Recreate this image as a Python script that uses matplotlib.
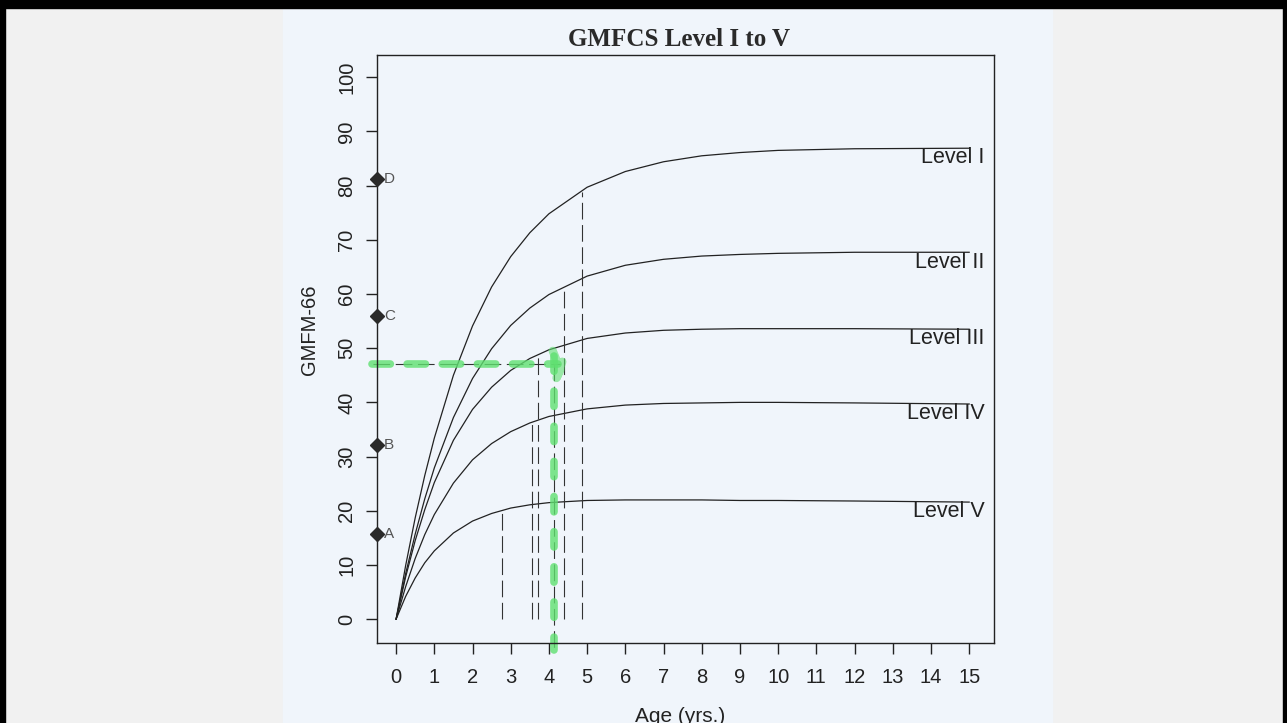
import numpy as np
import matplotlib
matplotlib.use("Agg")
from matplotlib import pyplot as plt
from matplotlib.patches import Rectangle

ages = [0, 0.25, 0.5, 0.75, 1, 1.5, 2, 2.5, 3, 3.5, 4, 5, 6, 7, 8, 9, 10, 12, 15]

level_1 = [0, 9.9, 18.7, 26.5, 33.4, 45.0, 54.1, 61.3, 66.9, 71.3, 74.8, 79.7, 82.6, 84.4, 85.5, 86.1, 86.5, 86.8, 86.9]
level_2 = [0, 8.4, 15.7, 22.2, 27.9, 37.2, 44.4, 49.9, 54.2, 57.4, 59.9, 63.3, 65.3, 66.4, 67.0, 67.3, 67.5, 67.7, 67.7]
level_3 = [0, 7.8, 14.5, 20.2, 25.2, 33.0, 38.7, 42.8, 45.9, 48.1, 49.7, 51.8, 52.8, 53.3, 53.5, 53.6, 53.6, 53.6, 53.5]
level_4 = [0, 6.0, 11.2, 15.6, 19.3, 25.1, 29.4, 32.4, 34.6, 36.2, 37.4, 38.8, 39.5, 39.8, 39.9, 40.0, 40.0, 39.9, 39.7]
level_5 = [0, 4.2, 7.6, 10.4, 12.6, 15.9, 18.1, 19.5, 20.5, 21.1, 21.5, 21.9, 22.0, 22.0, 22.0, 21.9, 21.9, 21.8, 21.6]

curves = [level_1, level_2, level_3, level_4, level_5]
level_names = ["Level I", "Level II", "Level III", "Level IV", "Level V"]

# age where each curve reaches 90% of its limit, and the score there
age90 = [4.87, 4.40, 3.72, 3.56, 2.77]
score90 = [78.8, 61.5, 48.8, 36.3, 20.0]

# reference points on the y axis
point_names = ["A", "B", "C", "D"]
point_scores = [15.7, 32.1, 56.0, 81.3]
point_x = -0.5

# hand drawn green reading lines
green_score = 47.0
green_age = 4.12

W, H = 1287, 723
fig = plt.figure(figsize=(W / 100, H / 100), dpi=100, facecolor="#f1f1f1")

""" scanned page and the black frame of the image """
fig.patches.append(Rectangle((283 / W, 0), (1052 - 283) / W, 1 - 8 / H,
                             transform=fig.transFigure, color="#f0f5fb", zorder=-2))
fig.patches.append(Rectangle((0, 1 - 8 / H), 1, 8 / H, transform=fig.transFigure, color="black", zorder=-1))
fig.patches.append(Rectangle((0, 0), 5 / W, 1, transform=fig.transFigure, color="black", zorder=-1))
fig.patches.append(Rectangle((1 - 4 / W, 0), 4 / W, 1, transform=fig.transFigure, color="black", zorder=-1))

ax = fig.add_axes([377 / W, 1 - 643 / H, (994 - 377) / W, (643 - 55) / H])
ax.set_facecolor("none")

sans = "Liberation Sans"

for vals, name in zip(curves, level_names):
    ax.plot(ages, vals, color="#222222", lw=0.9)
    ax.text(15.4, vals[-1] - 1.8, name, ha="right", va="center",
            fontsize=15.5, family=sans, color="#222222")

for a, s in zip(age90, score90):
    ax.plot([a, a], [0, s], color="#333333", lw=0.8, linestyle=(0, (15, 5)))

ax.plot([point_x] * len(point_scores), point_scores, linestyle="none", marker="D",
        markersize=7, color="#2a2a2a", clip_on=False, zorder=5)
for name, s in zip(point_names, point_scores):
    ax.annotate(name, (point_x, s), xytext=(5, 0), textcoords="offset points",
                ha="left", va="center", fontsize=11, family=sans, color="#555555")

""" thin pen lines under the green highlighter """
ax.plot([-0.6, 4.3], [green_score, green_score], color="#333333", lw=0.8,
        linestyle=(0, (15, 5)), clip_on=False)
ax.plot([green_age, green_age], [green_score, -5.5], color="#333333", lw=0.8,
        linestyle=(0, (15, 5)), clip_on=False)

green = "#5fe070"
ax.plot([-0.63, 4.25], [green_score, green_score], color=green, alpha=0.8, lw=5.5,
        linestyle=(0, (2.4, 2.2)), dash_capstyle="round", solid_capstyle="round", clip_on=False)
ax.plot([green_age, green_age], [48.5, -5.7], color=green, alpha=0.8, lw=5.5,
        linestyle=(0, (2.0, 2.6)), dash_capstyle="round", clip_on=False)
ax.plot([4.1, 4.3, 4.2, 4.35], [49.5, 46.0, 44.5, 47.5], color=green, alpha=0.6, lw=6,
        solid_capstyle="round")

ax.set_xlim(-0.5, 15.65)
ax.set_ylim(-4.4, 104.1)
ax.set_xticks(range(0, 16))
ax.set_yticks(range(0, 101, 10))
ax.tick_params(axis="both", direction="out", length=8, width=1, labelsize=14.5, colors="#222222")
ax.tick_params(axis="x", pad=10)
ax.tick_params(axis="y", pad=7)
for lab in ax.get_yticklabels():
    lab.set_rotation(90)
    lab.set_va("center")
for lab in ax.get_xticklabels() + ax.get_yticklabels():
    lab.set_family(sans)
for sp in ax.spines.values():
    sp.set_linewidth(1.0)
    sp.set_color("#222222")

ax.set_ylabel("GMFM-66", fontsize=14.5, family=sans, color="#222222")
ax.yaxis.set_label_coords(-0.109, 0.532)
ax.yaxis.label.set_va("center")

fig.text(680 / W, 1 - 716 / H, "Age (yrs.)", ha="center", va="center",
         fontsize=15, family=sans, color="#222222")
fig.text(679 / W, 1 - 40 / H, "GMFCS Level I to V", ha="center", va="center",
         fontsize=18, family="Liberation Serif", weight="bold", color="#2a2a2a")

fig.savefig("out.png", dpi=100, facecolor=fig.get_facecolor())
